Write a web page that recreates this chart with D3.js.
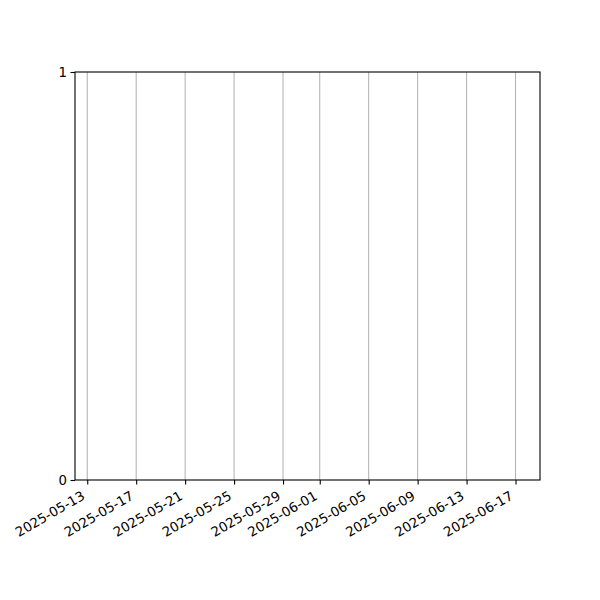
<!DOCTYPE html>
<html><head><meta charset="utf-8">
<script src="https://cdn.jsdelivr.net/npm/d3@7"></script>
<style>body{margin:0;background:#fff}svg{display:block}</style>
</head><body>
<svg id="c" width="600" height="600"></svg>
<script>
const xDomain = ["2025-05-12", "2025-06-19"];
const xTickLabels = ["2025-05-13","2025-05-17","2025-05-21","2025-05-25","2025-05-29","2025-06-01","2025-06-05","2025-06-09","2025-06-13","2025-06-17"];
const yDomain = [0, 1];
const yTickValues = [0, 1];

const parse = d3.utcParse("%Y-%m-%d");
const fmt = d3.utcFormat("%Y-%m-%d");
const svg = d3.select("#c");
const L = 75, R = 540, T = 72, B = 480;
const x = d3.scaleUtc().domain(xDomain.map(parse)).range([L, R]);
const y = d3.scaleLinear().domain(yDomain).range([B, T]);
const font = "DejaVu Sans, sans-serif";

// grid
svg.append("g").selectAll("line").data(xTickLabels.map(parse)).join("line")
  .attr("x1", d => x(d)).attr("x2", d => x(d)).attr("y1", T).attr("y2", B)
  .attr("stroke", "#b0b0b0").attr("stroke-width", 1);

// x axis
const xa = svg.append("g").attr("transform", `translate(0,${B})`)
  .call(d3.axisBottom(x).tickValues(xTickLabels.map(parse)).tickFormat(fmt).tickSize(4.5).tickPadding(3.5));
xa.select(".domain").remove();
xa.selectAll(".tick line").attr("stroke", "#000").attr("stroke-width", 1.1);
xa.selectAll(".tick text")
  .attr("font-family", font).attr("font-size", 13.3).attr("fill", "#000")
  .attr("text-anchor", "end").attr("dy", null)
  .attr("y", 0).attr("x", 0)
  .attr("transform", "translate(-2,18.5) rotate(-30)");

// y axis
const ya = svg.append("g").attr("transform", `translate(${L},0)`)
  .call(d3.axisLeft(y).tickValues(yTickValues).tickFormat(d3.format("d")).tickSize(4.5).tickPadding(3.5));
ya.select(".domain").remove();
ya.selectAll(".tick line").attr("stroke", "#000").attr("stroke-width", 1.1);
ya.selectAll(".tick text").attr("font-family", font).attr("font-size", 13.3).attr("fill", "#000");

// frame
svg.append("rect").attr("x", L).attr("y", T).attr("width", R - L).attr("height", B - T)
  .attr("fill", "none").attr("stroke", "#000").attr("stroke-width", 1.1);
</script>
</body></html>
